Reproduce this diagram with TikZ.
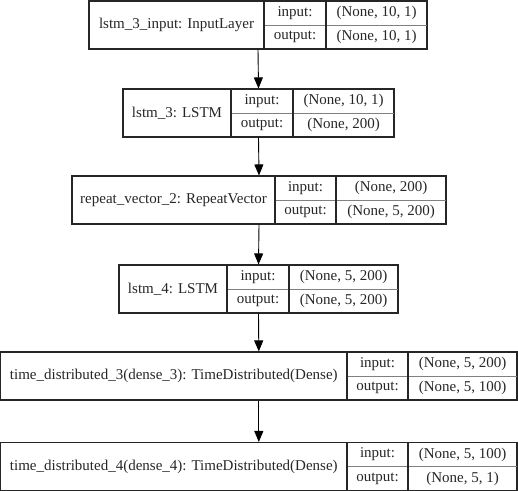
\documentclass[tikz,border=0pt]{standalone}
\usepackage{fontspec}
\setmainfont{Liberation Serif}
\usetikzlibrary{arrows.meta,fit}
\tikzset{
  cellb/.style={inner sep=0pt, outer sep=0pt, font=\fontsize{15}{17}\selectfont, text=black!85},
  frame/.style={draw=black!85, line width=1.1pt},
  midline/.style={draw=black!50, line width=0.8pt},
  flow/.style={draw=black, line width=0.9pt, -{Triangle[length=11pt,width=9pt]}}
}
% #1 name, #2 x1, #3 x2, #4 x3, #5 x4, #6 ytop, #7 label, #8 in, #9 out
\newcommand\klayer[9]{%
  \node[cellb, minimum width={(#3-#2)*1pt}, minimum height=48pt, anchor=north west] (#1-lab) at (#2,-#6) {#7};
  \node[cellb, minimum width={(#4-#3)*1pt}, minimum height=24pt, anchor=north west] (#1-ik) at (#3,-#6) {input:};
  \node[cellb, minimum width={(#4-#3)*1pt}, minimum height=24pt, anchor=north west] (#1-ok) at (#3,-#6-24) {output:};
  \node[cellb, minimum width={(#5-#4)*1pt}, minimum height=24pt, anchor=north west] (#1-iv) at (#4,-#6) {#8};
  \node[cellb, minimum width={(#5-#4)*1pt}, minimum height=24pt, anchor=north west] (#1-ov) at (#4,-#6-24) {#9};
  \node[fit=(#1-lab)(#1-ov), inner sep=0pt, frame] (#1) {};
  \draw[midline] (#1-ik.south west) -- (#1-iv.south east);
  \draw[frame] (#1-lab.north east) -- (#1-lab.south east);
  \draw[frame] (#1-ik.north east) -- (#1-ok.south east);
}
\begin{document}
\begin{tikzpicture}[x=1pt,y=1pt]
\useasboundingbox (0,0) rectangle (518,-490);
\klayer{L1}{89}{264}{326}{427}{1}{lstm\_3\_input: InputLayer}{(None, 10, 1)}{(None, 10, 1)}
\klayer{L2}{123}{231}{293}{394}{89}{lstm\_3: LSTM}{(None, 10, 1)}{(None, 200)}
\klayer{L3}{72}{275}{336}{446}{176}{repeat\_vector\_2: RepeatVector}{(None, 200)}{(None, 5, 200)}
\klayer{L4}{119}{227}{289}{398}{265}{lstm\_4: LSTM}{(None, 5, 200)}{(None, 5, 200)}
\klayer{L5}{0.6}{347}{408}{517}{352}{time\_distributed\_3(dense\_3): TimeDistributed(Dense)}{(None, 5, 200)}{(None, 5, 100)}
\klayer{L6}{0.6}{347}{408}{517}{442.5}{time\_distributed\_4(dense\_4): TimeDistributed(Dense)}{(None, 5, 100)}{(None, 5, 1)}
\draw[flow] (L1.south) -- (L2.north);
\draw[flow] (L2.south) -- (L3.north);
\draw[flow] (L3.south) -- (L4.north);
\draw[flow] (L4.south) -- (L5.north);
\draw[flow] (L5.south) -- (L6.north);
\end{tikzpicture}
\end{document}
